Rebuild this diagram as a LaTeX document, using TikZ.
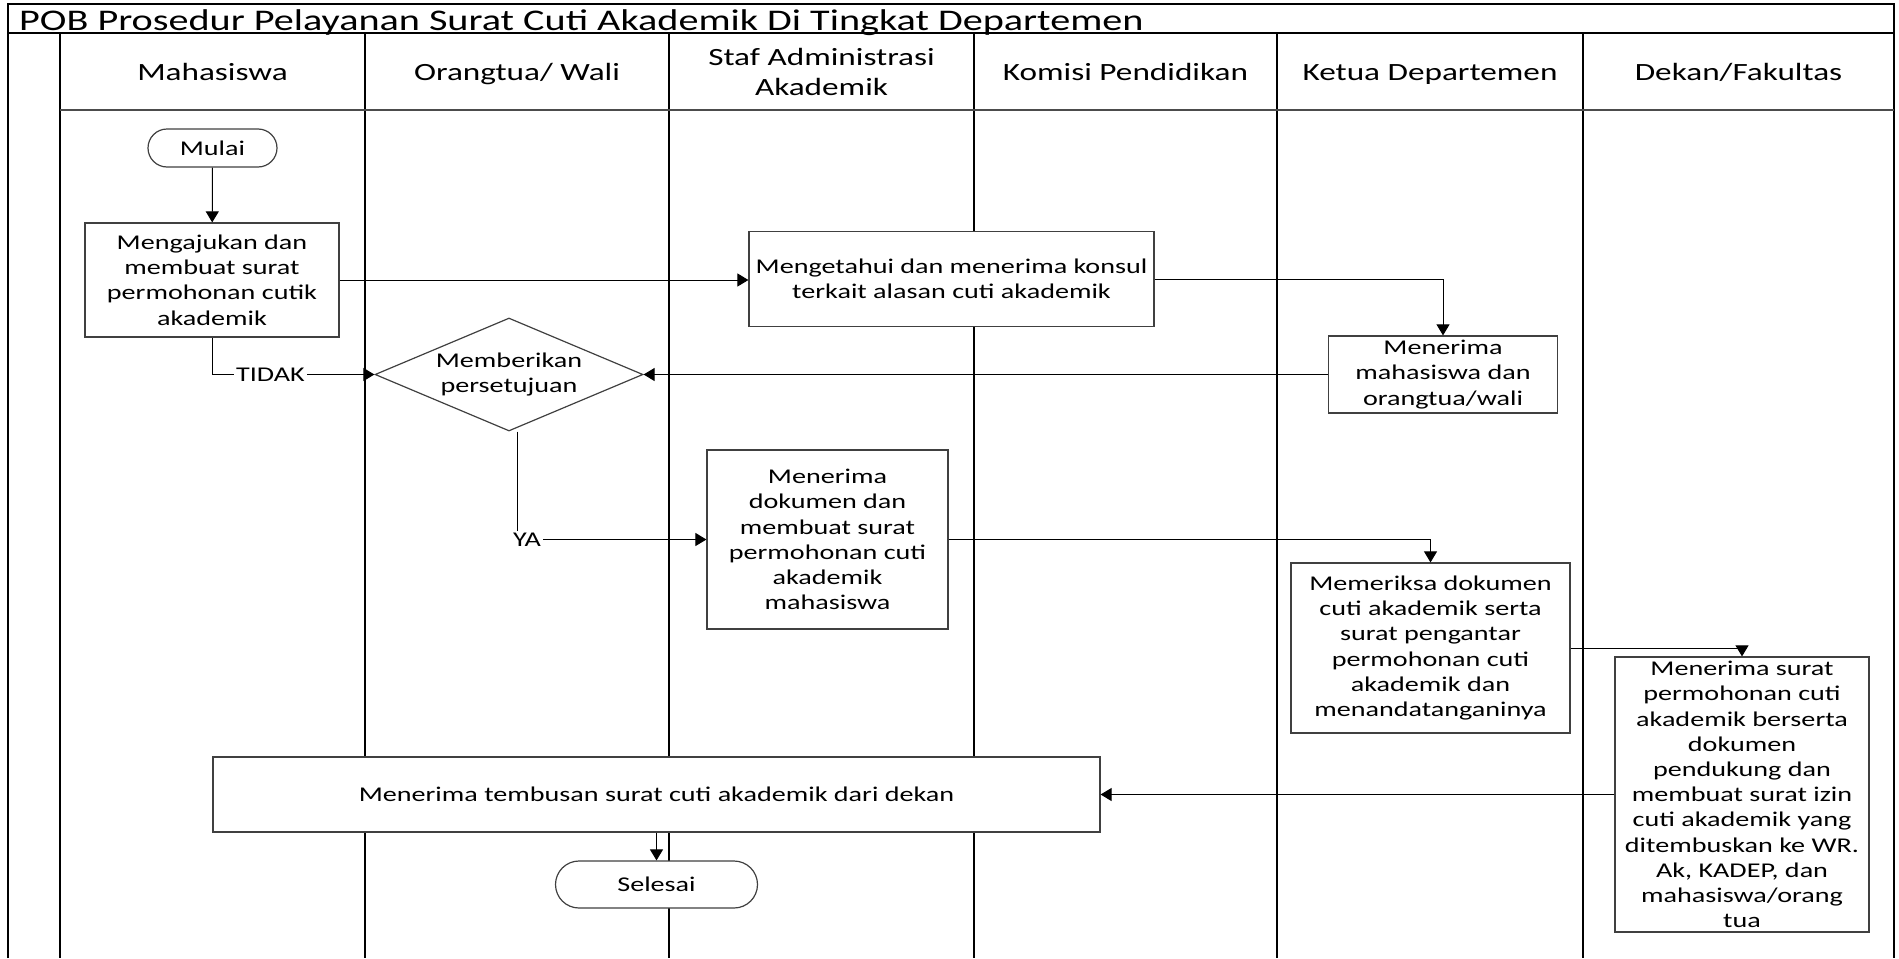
\documentclass[tikz,border=0pt]{standalone}
\usepackage{fontspec}
\setmainfont{Carlito}[FakeStretch=1.34]
\usetikzlibrary{shapes.geometric,arrows.meta}

\begin{document}
\begin{tikzpicture}[x=0.5pt,y=-0.5pt,line width=0.5pt,
        lajur/.style={line width=0.9pt},
        proses/.style={draw=black!75,line width=0.6pt,fill=white,align=center,inner sep=0pt,
            font=\fontsize{10.5}{12.6}\selectfont},
        keputusan/.style={proses,diamond,aspect=2.37},
        label/.style={fill=white,inner sep=1pt,font=\fontsize{10.5}{12.6}\selectfont},
        judul/.style={align=center,font=\fontsize{12.4}{15.2}\selectfont},
        panah/.style={-{Triangle[length=5.5pt,width=6.5pt]}}]

        \useasboundingbox (0,0) rectangle (1899,958);

        % bingkai dan judul
        \draw[lajur] (8,958) -- (8,4) -- (1894,4) -- (1894,958);
        \draw[lajur] (8,33) -- (1894,33);
        \node[anchor=base west,font=\fontsize{15}{17}\selectfont] (pob) at (12,30.5)
            {POB Prosedur Pelayanan Surat Cuti Akademik Di Tingkat Departemen};

        % lajur
        \draw[lajur] (60,33) -- (60,958);
        \draw[lajur] (365,33) -- (365,958);
        \draw[lajur] (669,33) -- (669,958);
        \draw[lajur] (974,33) -- (974,958);
        \draw[lajur] (1277,33) -- (1277,958);
        \draw[lajur] (1583,33) -- (1583,958);
        \draw[black!70,line width=0.7pt] (60,110) -- (1894,110);

        \node[judul,anchor=base] (mhs) at (212.5,80) {Mahasiswa};
        \node[judul,anchor=base] (ortu) at (517,80) {Orangtua/ Wali};
        \node[judul] (staf) at (821.5,72) {Staf Administrasi\\Akademik};
        \node[judul,anchor=base] (komisi) at (1125.5,80) {Komisi Pendidikan};
        \node[judul,anchor=base] (kadep) at (1430,80) {Ketua Departemen};
        \node[judul,anchor=base] (dekan) at (1738.5,80) {Dekan/Fakultas};

        % langkah
        \node[proses,rounded corners=9.5pt,minimum width=64.5pt,minimum height=19pt] (mulai) at (212.5,148) {Mulai};
        \node[proses,minimum width=127pt,minimum height=57pt] (ajukan) at (212,280)
            {Mengajukan dan\\membuat surat\\permohonan cutik\\akademik};
        \node[proses,minimum width=202.5pt,minimum height=47.5pt] (konsul) at (951.5,279)
            {Mengetahui dan menerima konsul\\terkait alasan cuti akademik};
        \node[keputusan,minimum width=134pt,minimum height=56.5pt] (setuju) at (509,374.5)
            {Memberikan\\persetujuan};
        \node[proses,minimum width=114.5pt,minimum height=38.5pt] (terima) at (1443,374.5)
            {Menerima\\mahasiswa dan\\orangtua/wali};
        \node[proses,minimum width=120.5pt,minimum height=89.5pt] (dokumen) at (827.5,539.5)
            {Menerima\\dokumen dan\\membuat surat\\permohonan cuti\\akademik\\mahasiswa};
        \node[proses,minimum width=139.5pt,minimum height=85pt] (periksa) at (1430.5,648)
            {Memeriksa dokumen\\cuti akademik serta\\surat pengantar\\permohonan cuti\\akademik dan\\menandatanganinya};
        \node[proses,minimum width=127pt,minimum height=137.5pt] (izin) at (1742,794.5)
            {Menerima surat\\permohonan cuti\\akademik berserta\\dokumen\\pendukung dan\\membuat surat izin\\cuti akademik yang\\ditembuskan ke WR.\\Ak, KADEP, dan\\mahasiswa/orang\\tua};
        \node[proses,minimum width=443.5pt,minimum height=37.5pt] (tembusan) at (656.5,794.5)
            {Menerima tembusan surat cuti akademik dari dekan};
        \node[proses,rounded corners=11.75pt,minimum width=101pt,minimum height=23.5pt] (selesai) at (656.5,884.5) {Selesai};

        % alur
        \draw[panah] (mulai) -- (ajukan);
        \draw[panah] (ajukan.east) -- (ajukan.east -| konsul.west);
        \draw[panah] (konsul.east) -| (terima.north);
        \draw[panah] (terima.west) -- (setuju.east);
        \draw[panah] (ajukan.south) |- (setuju.west) node[label,pos=0.68] (tidak) {TIDAK};
        \draw[panah] ([xshift=4pt]setuju.south) |- (dokumen.west) node[label,pos=0.5,xshift=5pt] (ya) {YA};
        \draw[panah] (dokumen.east) -| (periksa.north);
        \draw[panah] (periksa.east) -| (izin.north);
        \draw[panah] (izin.west) -- (tembusan.east);
        \draw[panah] (tembusan.south) -- (selesai.north);
    \end{tikzpicture}
\end{document}
